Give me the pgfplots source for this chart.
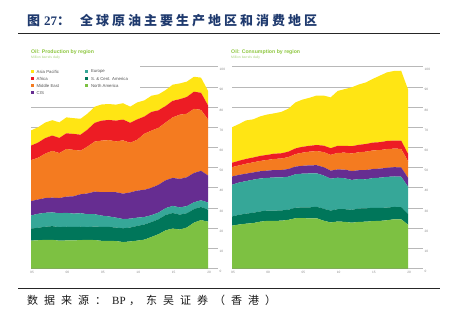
\documentclass[border=0pt]{standalone}
\usepackage{pgfplots}
\usepackage{pgfplotstable}
\pgfplotsset{compat=1.18}
\usepackage{fontspec}
\setmainfont{Liberation Sans}
\newfontfamily\cjk{Noto Sans CJK SC}
\newfontfamily\sernum{Liberation Serif}
\definecolor{cNA}{HTML}{7DC142}
\definecolor{cSCA}{HTML}{00765A}
\definecolor{cEU}{HTML}{36A798}
\definecolor{cCIS}{HTML}{662D91}
\definecolor{cME}{HTML}{F47B20}
\definecolor{cAF}{HTML}{ED1C24}
\definecolor{cAP}{HTML}{FFE514}
\definecolor{ttl}{HTML}{8DC63F}
\definecolor{subttl}{HTML}{A8D27A}
\definecolor{navy}{HTML}{1F3A6E}
\definecolor{gridc}{HTML}{B8B8B8}
\definecolor{tickc}{HTML}{8A8A8A}
\definecolor{legc}{HTML}{555555}
\makeatletter
\newcommand\spaced[2]{\def\spw{#1}\@tfor\nx:=#2\do{\makebox[\spw][l]{\nx}}}
\makeatother

\pgfplotstableread{
year NA SCA EU CIS ME AF AP
1995 13.8 5.9 6.6 7.1 20.3 7.2 7.5
1996 14.0 6.2 6.9 7.1 20.7 7.5 7.6
1997 14.2 6.5 6.9 7.3 22.0 7.7 7.7
1998 14.2 6.8 6.8 7.3 23.2 7.6 7.6
1999 13.8 6.7 6.9 7.5 22.3 7.5 7.7
2000 13.9 6.8 6.9 8.0 23.6 7.8 7.9
2001 13.9 6.7 6.6 8.6 23.0 7.9 7.8
2002 14.1 6.6 6.7 9.4 21.6 7.9 7.9
2003 14.2 6.3 6.4 10.3 23.3 8.4 7.9
2004 14.1 6.7 6.1 11.2 24.8 9.3 8.0
2005 13.7 6.9 5.6 11.6 25.6 9.9 8.0
2006 13.7 6.9 5.2 12.1 25.7 10.0 7.9
2007 13.6 6.7 4.9 12.6 25.2 10.3 7.9
2008 13.1 6.8 4.6 12.6 26.4 10.3 8.1
2009 13.4 6.9 4.4 13.0 24.6 9.9 8.0
2010 13.8 7.3 4.1 13.4 25.2 10.1 8.4
2011 14.3 7.5 3.7 13.5 27.8 8.5 8.0
2012 15.6 7.4 3.4 13.6 28.3 9.3 8.0
2013 17.0 7.4 3.3 13.8 28.2 8.7 7.9
2014 18.9 7.6 3.4 13.8 28.6 8.2 7.9
2015 19.8 7.7 3.5 13.9 30.0 8.2 8.0
2016 19.3 7.4 3.6 14.1 31.8 7.7 7.8
2017 20.3 7.1 3.5 14.3 31.5 8.3 7.6
2018 22.7 6.7 3.4 14.5 31.8 8.5 7.4
2019 24.0 6.5 3.3 14.6 30.2 8.5 7.5
2020 23.2 5.9 3.6 13.4 27.7 7.0 7.2
}\prodtab

\pgfplotstableread{
year NA SCA EU CIS ME AF AP
1995 21.2 4.6 15.7 4.1 4.6 2.2 17.6
1996 21.8 4.8 16.0 3.8 4.7 2.3 18.2
1997 22.2 5.0 16.1 3.7 4.9 2.4 19.1
1998 22.5 5.1 16.4 3.6 5.0 2.4 18.9
1999 23.2 5.1 16.3 3.6 5.1 2.5 19.6
2000 23.6 5.1 16.2 3.6 5.3 2.5 20.0
2001 23.6 5.1 16.4 3.7 5.5 2.6 20.0
2002 23.7 5.1 16.3 3.7 5.7 2.6 20.5
2003 24.1 5.0 16.4 3.8 5.9 2.7 21.3
2004 24.9 5.2 16.6 3.8 6.2 2.8 22.8
2005 25.0 5.3 16.7 3.9 6.5 2.9 23.4
2006 24.8 5.5 16.8 4.0 6.8 2.9 23.8
2007 24.9 5.7 16.6 4.0 7.0 3.0 24.5
2008 23.7 5.9 16.5 4.1 7.5 3.2 24.8
2009 22.8 5.9 15.8 4.0 7.8 3.3 25.2
2010 23.3 6.1 15.6 4.1 8.2 3.5 27.2
2011 23.1 6.3 15.3 4.3 8.4 3.4 28.1
2012 22.7 6.4 14.8 4.4 8.7 3.6 29.2
2013 23.1 6.6 14.6 4.4 8.9 3.7 29.9
2014 23.2 6.6 14.4 4.6 9.1 3.8 30.5
2015 23.5 6.6 14.7 4.5 9.2 3.9 31.6
2016 23.6 6.4 15.0 4.5 9.2 3.9 33.0
2017 23.9 6.3 15.2 4.5 9.3 4.0 34.0
2018 24.4 6.1 15.1 4.6 9.2 4.0 34.5
2019 24.4 6.0 15.1 4.6 9.2 4.1 34.6
2020 21.6 5.4 13.4 4.4 8.2 3.7 31.8
}\constab

\pgfplotsset{
  oilax/.style={
    scale only axis, height=201.8pt,
    ymin=0, ymax=100, xmin=1995,
    stack plots=y,
    axis line style={draw=none},
    ytick={0,10,...,100}, xtick={1995,2000,...,2020},
    xticklabels={95,00,05,10,15,20},
    yticklabel pos=right,
    major tick length=0pt,
    ymajorgrids, grid style={gridc, line width=0.6pt},
    tick label style={font=\fontsize{3.2}{3.2}\selectfont, text=tickc},
    yticklabel style={anchor=west, inner sep=0pt, xshift=1.5pt, yshift=-3pt},
    xticklabel style={anchor=north, inner sep=0pt, yshift=-2.5pt, xshift=1pt},
    /pgf/number format/assume math mode=true,
    clip=false,
  },
  ar/.style={fill=#1, draw=none},
}

\begin{document}
\begin{tikzpicture}
\path[use as bounding box] (0pt,0pt) rectangle (454pt,327pt);

% left: production
\begin{axis}[oilax, at={(31pt,58.5pt)}, anchor=south west, width=187pt, xmax=2021.4]
\addplot[ar=cNA] table[x=year,y=NA]{\prodtab} \closedcycle;
\addplot[ar=cSCA] table[x=year,y=SCA]{\prodtab} \closedcycle;
\addplot[ar=cEU] table[x=year,y=EU]{\prodtab} \closedcycle;
\addplot[ar=cCIS] table[x=year,y=CIS]{\prodtab} \closedcycle;
\addplot[ar=cME] table[x=year,y=ME]{\prodtab} \closedcycle;
\addplot[ar=cAF] table[x=year,y=AF]{\prodtab} \closedcycle;
\addplot[ar=cAP] table[x=year,y=AP]{\prodtab} \closedcycle;
\draw[tickc, line width=0.6pt] (axis cs:1995,0) -- (axis cs:2020,0);
\end{axis}

% right: consumption
\begin{axis}[oilax, at={(232pt,58.5pt)}, anchor=south west, width=191pt, xmax=2022.1]
\addplot[ar=cNA] table[x=year,y=NA]{\constab} \closedcycle;
\addplot[ar=cSCA] table[x=year,y=SCA]{\constab} \closedcycle;
\addplot[ar=cEU] table[x=year,y=EU]{\constab} \closedcycle;
\addplot[ar=cCIS] table[x=year,y=CIS]{\constab} \closedcycle;
\addplot[ar=cME] table[x=year,y=ME]{\constab} \closedcycle;
\addplot[ar=cAF] table[x=year,y=AF]{\constab} \closedcycle;
\addplot[ar=cAP] table[x=year,y=AP]{\constab} \closedcycle;
\draw[tickc, line width=0.6pt] (axis cs:1995,0) -- (axis cs:2020,0);
\end{axis}

\begin{scope}[x=1pt,y=1pt]
% figure title
\node[anchor=west, inner sep=0pt, text=navy] at (27,306)
  {\fontsize{13}{13}\selectfont\cjk\bfseries 图};
\node[anchor=west, inner sep=0pt, text=navy] at (44,306)
  {\fontsize{13}{13}\selectfont\sernum\bfseries 27\cjk：};
\node[anchor=west, inner sep=0pt, text=navy] at (80,306)
  {\fontsize{13}{13}\selectfont\cjk\bfseries\spaced{16pt}{全球原油主要生产地区和消费地区}};
\draw[line width=1.2pt, black!85] (18,293.7) -- (440,293.7);

% chart titles
\node[anchor=west, inner sep=0pt, text=ttl] at (31,275.3)
  {\fontsize{5.2}{5.2}\selectfont\bfseries Oil: Production by region};
\node[anchor=west, inner sep=0pt, text=subttl] at (31,269.7)
  {\fontsize{3.4}{3.4}\selectfont Million barrels daily};
\node[anchor=west, inner sep=0pt, text=ttl] at (231,275.3)
  {\fontsize{5.2}{5.2}\selectfont\bfseries Oil: Consumption by region};
\node[anchor=west, inner sep=0pt, text=subttl] at (231,269.7)
  {\fontsize{3.4}{3.4}\selectfont Million barrels daily};

% legend (left chart)
\fill[white] (30,229) rectangle (139.5,263);
\begin{scope}[every node/.style={anchor=west, inner sep=0pt, text=legc, font=\fontsize{4.3}{4.3}\selectfont}]
\fill[cAP]  (31.2,253.8) rectangle (34.2,256.8); \node at (36.5,255.3) {Asia Pacific};
\fill[cAF]  (31.2,246.5) rectangle (34.2,249.5); \node at (36.5,248) {Africa};
\fill[cME]  (31.2,239.8) rectangle (34.2,242.8); \node at (36.5,241.3) {Middle East};
\fill[cCIS] (31.2,232.8) rectangle (34.2,235.8); \node at (36.5,234.3) {CIS};
\fill[cEU]  (85.2,253.8) rectangle (88.2,256.8); \node at (90.8,255.3) {Europe};
\fill[cSCA] (85.2,246.5) rectangle (88.2,249.5); \node at (90.8,248) {S. \& Cent. America};
\fill[cNA]  (85.2,239.8) rectangle (88.2,242.8); \node at (90.8,241.3) {North America};
\end{scope}

% bottom rule and source
\draw[line width=1.5pt, black!85] (18,38.5) -- (440,38.5);
\node[anchor=west, inner sep=0pt, text=black!90] at (27,27)
  {\fontsize{11}{11}\selectfont\cjk\spaced{17pt}{数据来源：{\sernum BP}，东吴证券（香港）}};
\end{scope}
\end{tikzpicture}
\end{document}
